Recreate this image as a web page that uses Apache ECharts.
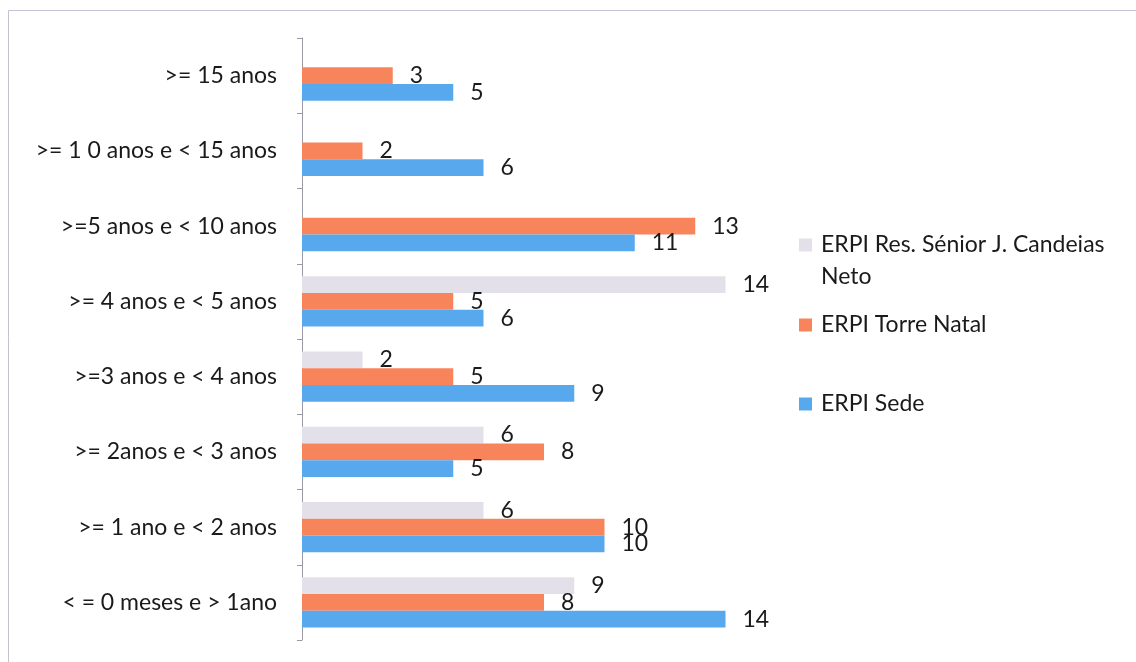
<!DOCTYPE html>
<html>
<head>
<meta charset="utf-8">
<script src="https://cdn.jsdelivr.net/npm/echarts@6/dist/echarts.min.js"></script>
<style>
  html, body { margin: 0; padding: 0; background: #fff; }
  #chart { width: 1136px; height: 662px; }
</style>
</head>
<body>
<div id="chart"></div>
<script>
// Length-of-stay bands, listed from the bottom of the axis to the top
const categories = [
  '< = 0 meses e > 1ano',
  '>= 1 ano e < 2 anos',
  '>= 2anos e < 3 anos',
  '>=3 anos e < 4 anos',
  '>= 4 anos e < 5 anos',
  '>=5 anos e < 10 anos',
  '>= 1 0 anos e < 15 anos',
  '>= 15 anos'
];

const seriesNames = ['ERPI Res. Sénior J. Candeias Neto', 'ERPI Torre Natal', 'ERPI Sede'];

const resSenior = [9, 6, 6, 2, 14, null, null, null];
const torreNatal = [8, 10, 8, 5, 5, 13, 2, 3];
const sede = [14, 10, 5, 9, 6, 11, 6, 5];

const colors = ['#e4e0ea', '#f8845c', '#58a8ee'];
const FONT = 'Lato, "Open Sans", sans-serif';
const FS = 23;

const chart = echarts.init(document.getElementById('chart'));

function barSeries(name, data, color) {
  return {
    name: name,
    type: 'bar',
    data: data,
    barGap: '0%',
    barCategoryGap: '33%',
    itemStyle: { color: color },
    label: {
      show: true,
      position: 'right',
      distance: 17,
      color: '#1a1a1a',
      fontFamily: FONT,
      fontSize: FS
    },
    emphasis: { disabled: true },
    animation: false
  };
}

function legendItem(name, top) {
  return {
    orient: 'vertical',
    left: 799,
    top: top,
    padding: 0,
    itemWidth: 13,
    itemHeight: 13,
    icon: 'rect',
    selectedMode: false,
    data: [name],
    // the long name wraps; a blank first line keeps the swatch beside its first line
    formatter: function (n) {
      return n === 'ERPI Res. Sénior J. Candeias Neto'
        ? '\nERPI Res. Sénior J. Candeias\nNeto' : n;
    },
    textStyle: {
      fontFamily: FONT,
      fontSize: FS,
      lineHeight: 32,
      color: '#1a1a1a',
      padding: [0, 0, 0, 4]
    }
  };
}

chart.setOption({
  backgroundColor: '#ffffff',
  animation: false,
  grid: { left: 302, top: 38, bottom: 22, width: 484, containLabel: false },
  xAxis: {
    type: 'value',
    min: 0,
    max: 16,
    show: false
  },
  yAxis: {
    type: 'category',
    data: categories,
    axisLine: { show: true, lineStyle: { color: '#9a9aa6', width: 1 } },
    axisTick: { show: true, length: 5, lineStyle: { color: '#9a9aa6' } },
    axisLabel: {
      margin: 25,
      color: '#1a1a1a',
      fontFamily: FONT,
      fontSize: FS
    },
    splitLine: { show: false }
  },
  legend: [
    legendItem(seriesNames[0], 197),
    legendItem(seriesNames[1], 309),
    legendItem(seriesNames[2], 388)
  ],
  graphic: [{
    type: 'rect',
    silent: true,
    shape: { x: 8.5, y: 10.5, width: 1150, height: 700 },
    style: { fill: 'none', stroke: '#c4c2d0', lineWidth: 1 }
  }],
  series: [
    barSeries(seriesNames[0], resSenior, colors[0]),
    barSeries(seriesNames[1], torreNatal, colors[1]),
    barSeries(seriesNames[2], sede, colors[2])
  ]
});
</script>
</body>
</html>
